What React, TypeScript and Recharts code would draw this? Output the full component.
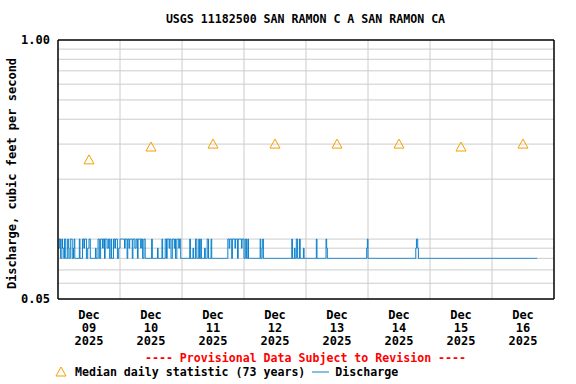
import React from "react";
import {
  ComposedChart,
  Line,
  Scatter,
  XAxis,
  YAxis,
  ReferenceLine,
} from "recharts";

// x axis is in days since Dec 09 2025 00:00
const dayTicks = [0.5, 1.5, 2.5, 3.5, 4.5, 5.5, 6.5, 7.5];
const dayLabels = ["09", "10", "11", "12", "13", "14", "15", "16"];
const dayBounds = [1, 2, 3, 4, 5, 6, 7];
const gridValues = [0.06, 0.07, 0.08, 0.09, 0.1, 0.2, 0.3, 0.4, 0.5, 0.6, 0.7, 0.8, 0.9];
const yTicks = [0.05, 1];

// median daily statistic, one per day (noon)
const medianValues = [0.25, 0.29, 0.3, 0.3, 0.3, 0.3, 0.29, 0.3];

// 15-minute discharge: a=0.10, b=0.09, c=0.08, then count
const dischargeLevels: Record<string, number> = { a: 0.1, b: 0.09, c: 0.08 };
const dischargeRuns =
  "b2 a2 c2 a1 b2 c1 a2 c3 a1 b1 c2 a3 c2 b1 a1 c1 c6 a1 c4 a2 b1 a3 c2 b2 a2 c3 " +
  "c5 b1 c3 a2 c2 a3 b1 a2 c1 a3 b2 a2 c2 a1 c3 a2 b1 a3 c2 b2 a3 " +
  "a4 b1 a3 c1 a2 b1 a4 c1 a3 b2 a2 c1 a4 b1 a2 c2 a2 c10 a1 c8 b1 c6 a1 c4 " +
  "a2 c1 a3 b1 a2 c2 a3 b1 a1 c2 a3 b1 a2 c2 " +
  "c12 a1 c4 b1 c3 a2 c3 a1 c2 a1 c5 b1 c3 a2 c4 a1 c3 c22 " +
  "a2 b1 a3 c1 a4 b1 a3 c1 a5 b1 a3 c2 a2 " +
  "c2 a1 c1 c17 a1 c2 b1 a1 c44 a1 c3 b1 c2 a2 c3 a1 c5 b1 c16 c3 a1 c14 a1 b1 " +
  "c61 b1 a1 c74 b1 a2 b1 c185";

const discharge: { x: number; q: number }[] = [];
dischargeRuns.split(" ").forEach((run) => {
  const v = dischargeLevels[run[0]];
  const n = parseInt(run.slice(1), 10);
  for (let k = 0; k < n; k++) {
    discharge.push({ x: discharge.length / 96, q: v });
  }
});

const medians = medianValues.map((m, i) => ({ x: dayTicks[i], m }));

const mono = '"DejaVu Sans Mono", monospace';
const ORANGE = "#f5a000";
const BLUE = "#0a80cc";

function DayTick(props: any) {
  const { x, y, payload } = props;
  const i = dayTicks.indexOf(payload.value);
  return (
    <text
      x={x}
      y={y}
      textAnchor="middle"
      fontFamily={mono}
      fontWeight="bold"
      fontSize={12}
      fill="#000"
    >
      <tspan x={x} dy={12}>Dec</tspan>
      <tspan x={x} dy={13}>{dayLabels[i]}</tspan>
      <tspan x={x} dy={13}>2025</tspan>
    </text>
  );
}

function Triangle(props: any) {
  const { cx, cy } = props;
  return (
    <path
      d={`M${cx},${cy - 5} L${cx + 5},${cy + 4} L${cx - 5},${cy + 4} Z`}
      fill="none"
      stroke={ORANGE}
      strokeWidth={1}
    />
  );
}

function YTitle(props: any) {
  const { viewBox } = props;
  const cx = 12;
  const cy = viewBox.y + viewBox.height / 2 + 4;
  return (
    <text
      x={cx}
      y={cy}
      transform={`rotate(-90 ${cx} ${cy})`}
      textAnchor="middle"
      dominantBaseline="central"
      fontFamily={mono}
      fontWeight="bold"
      fontSize={12}
      fill="#000"
    >
      Discharge, cubic feet per second
    </text>
  );
}

export default function App() {
  return (
    <div
      style={{
        position: "absolute",
        left: 0,
        top: 0,
        width: 576,
        height: 384,
        background: "#fff",
        fontFamily: mono,
        fontWeight: "bold",
        fontSize: 12,
      }}
    >
      <div
        style={{
          position: "absolute",
          top: 12,
          left: 0,
          width: 611,
          textAlign: "center",
          fontSize: 11.6,
        }}
      >
        USGS 11182500 SAN RAMON C A SAN RAMON CA
      </div>

      <ComposedChart
        width={576}
        height={384}
        margin={{ top: 40, right: 22, left: 0, bottom: 0 }}
      >
        {gridValues.map((g) => (
          <ReferenceLine key={"h" + g} y={g} stroke="#cccccc" strokeWidth={1} />
        ))}
        {dayBounds.map((d) => (
          <ReferenceLine key={"v" + d} x={d} stroke="#cccccc" strokeWidth={1} />
        ))}
        <XAxis
          dataKey="x"
          type="number"
          domain={[0, 8]}
          ticks={dayTicks}
          tick={<DayTick />}
          tickLine={false}
          axisLine={false}
          height={85}
          interval={0}
          allowDataOverflow
        />
        <YAxis
          type="number"
          scale="log"
          domain={[0.05, 1]}
          ticks={yTicks}
          tickFormatter={(v: number) => v.toFixed(2)}
          tick={{ fontFamily: mono, fontWeight: "bold", fontSize: 12, fill: "#000" }}
          tickLine={false}
          axisLine={false}
          width={58}
          allowDataOverflow
          label={<YTitle />}
        />
        <Line
          data={discharge}
          dataKey="q"
          type="stepAfter"
          stroke={BLUE}
          strokeWidth={1}
          dot={false}
          isAnimationActive={false}
        />
        <Scatter
          data={medians}
          dataKey="m"
          shape={<Triangle />}
          isAnimationActive={false}
        />
        <ReferenceLine y={1} stroke="#000" strokeWidth={1.5} />
        <ReferenceLine y={0.05} stroke="#000" strokeWidth={1.5} />
        <ReferenceLine x={0} stroke="#000" strokeWidth={1.5} />
        <ReferenceLine x={8} stroke="#000" strokeWidth={1.5} />
      </ComposedChart>

      <div
        style={{
          position: "absolute",
          top: 351,
          left: 0,
          width: 611,
          textAlign: "center",
          color: "#ff0000",
          fontSize: 11.6,
        }}
      >
        ---- Provisional Data Subject to Revision ----
      </div>
      <div
        style={{
          position: "absolute",
          top: 365,
          left: 54,
          display: "flex",
          alignItems: "center",
          whiteSpace: "pre",
          fontSize: 11.6,
        }}
      >
        <svg width={14} height={12}>
          <path d="M7,1 L12,10 L2,10 Z" fill="none" stroke={ORANGE} strokeWidth={1} />
        </svg>
        <span style={{ marginLeft: 7 }}>Median daily statistic (73 years)</span>
        <svg width={24} height={12}>
          <line x1={7} y1={6} x2={24} y2={6} stroke={BLUE} strokeWidth={1} />
        </svg>
        <span style={{ marginLeft: 6 }}>Discharge</span>
      </div>
    </div>
  );
}
